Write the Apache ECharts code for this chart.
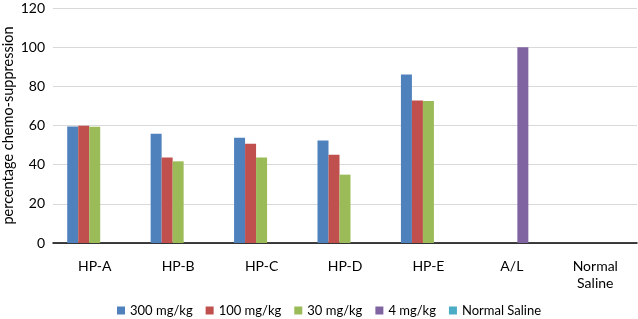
<!DOCTYPE html>
<html>
<head>
    <meta charset="utf-8">
    <title>chemo-suppression</title>
</head>
<body style="margin: 0">
    <div id="container" style="width:638px;height:319px"></div>
    <script src="https://cdn.jsdelivr.net/npm/echarts@6/dist/echarts.min.js"></script>
    <script>
        // data (null = no bar in that group)
        var categories = ['HP-A', 'HP-B', 'HP-C', 'HP-D', 'HP-E', 'A/L', 'Normal\nSaline'];
        var dose300 = [59.5, 55.8, 53.8, 52.4, 86.1, null, null];
        var dose100 = [59.9, 43.7, 50.7, 45.1, 72.8, null, null];
        var dose30  = [59.4, 41.7, 43.7, 34.9, 72.5, null, null];
        var dose4   = [null, null, null, null, null, 100, null];
        var saline  = [null, null, null, null, null, null, 0];
        var seriesNames = ['300 mg/kg', '100 mg/kg', '30 mg/kg', '4 mg/kg', 'Normal Saline'];
        var colors = ['#4F81BD', '#C0504D', '#9BBB59', '#8064A2', '#4BACC6'];

        var font = 'Lato, "Liberation Sans", sans-serif';
        var myChart = echarts.init(document.getElementById('container'), null, { renderer: 'canvas' });

        var allData = [dose300, dose100, dose30, dose4, saline];
        var series = allData.map(function (d, i) {
            return {
                name: seriesNames[i],
                type: 'bar',
                data: d,
                barWidth: 11,
                barGap: '0%',
                barCategoryGap: '34%',
                itemStyle: { color: colors[i] }
            };
        });

        var option = {
            animation: false,
            color: colors,
            grid: { left: 53, right: 1, top: 8, bottom: 76, outerBoundsMode: 'none', containLabel: false },
            legend: {
                top: 299,
                left: 112,
                itemWidth: 8,
                itemHeight: 8,
                itemGap: 13,
                icon: 'rect',
                textStyle: { fontFamily: font, fontSize: 13, color: '#000' },
                data: seriesNames
            },
            xAxis: {
                type: 'category',
                data: categories,
                axisLine: { lineStyle: { color: '#000', width: 1.5 } },
                axisTick: { show: false },
                axisLabel: {
                    fontFamily: font, fontSize: 14, color: '#000',
                    margin: 15, lineHeight: 17, interval: 0
                }
            },
            yAxis: {
                type: 'value',
                min: 0,
                max: 120,
                interval: 20,
                name: 'percentage chemo-suppression',
                nameLocation: 'middle',
                nameGap: 37,
                nameMoveOverlap: false,
                nameTextStyle: { fontFamily: font, fontSize: 14.5, color: '#000' },
                axisLabel: { fontFamily: font, fontSize: 14, color: '#000', margin: 8 },
                splitLine: { lineStyle: { color: '#d9d9d9', width: 1 } }
            },
            series: series
        };

        myChart.setOption(option);
        window.addEventListener('resize', myChart.resize);
    </script>
</body>
</html>
